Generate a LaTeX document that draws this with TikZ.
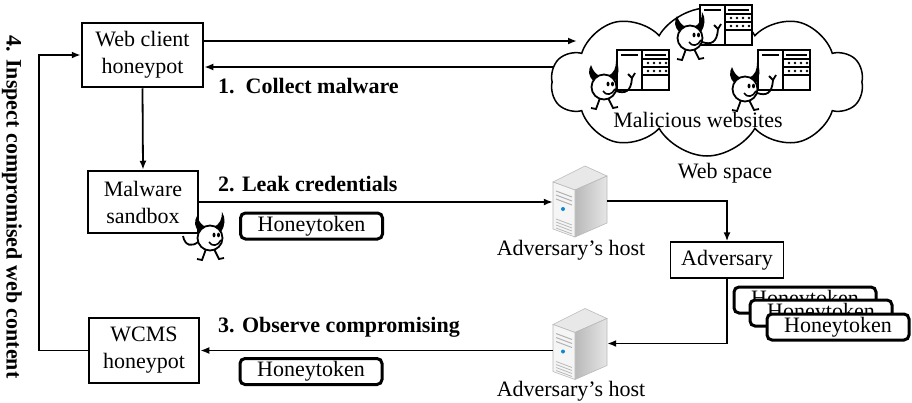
\documentclass[tikz,border=0pt]{standalone}
\usepackage{fontspec}
\setmainfont{Liberation Serif}
\usetikzlibrary{arrows.meta,shapes.symbols}

\newcommand{\figfont}{\fontsize{22}{27}\selectfont}

\tikzset{
  pot/.style={draw,line width=2.5pt,fill=white,align=center,inner sep=0pt},
  token/.style={draw,line width=3pt,rounded corners=5pt,fill=white,inner sep=0pt,
    minimum width=142pt,minimum height=26pt},
  arr/.style={line width=1.8pt,-{Latex[length=9pt,width=7pt]}},
  steplabel/.style={font=\figfont\bfseries,anchor=west,inner sep=0pt},
  host/.style={inner sep=0pt,minimum width=54pt,minimum height=72pt},
  hostlabel/.style={inner sep=0pt},
  % little web page with two columns
  pics/page/.style={code={
    \draw[line width=1.5pt,fill=white] (0,0) rectangle (52,40);
    \draw[line width=1.5pt] (25,0) -- (25,40);
    \draw[line width=2.5pt] (4,5) -- (21,5);
    \draw[line width=2pt] (28,5) -- (49,5);
    \draw[line width=1.2pt] (25,9) -- (52,9);
    \foreach \x in {31,37,43,49} {
      \fill (\x,13) circle (1.3pt);
      \fill (\x,21) circle (1.3pt);
    }
    \draw[line width=1.2pt] (25,17) -- (52,17);
    \draw[line width=1.2pt] (25,25) -- (52,25);
  }},
  % small devil, #1 is its arm
  pics/imp/.style={code={
    \fill (-10,-6) .. controls (-16,-10) and (-16,-17) .. (-13,-22)
      .. controls (-11,-16) and (-8,-12) .. (-3,-11) -- cycle;
    \fill (4,-11) .. controls (10,-14) and (12,-19) .. (12,-26)
      .. controls (16,-20) and (15,-12) .. (11,-6) -- cycle;
    \draw[line width=1.8pt,fill=white] (0,0) circle (12.5pt);
    \fill (4,-3) ellipse (1.5pt and 2.4pt);
    \fill (8.5,-3) ellipse (1.5pt and 2.4pt);
    \draw[line width=1.6pt] (-1,4) .. controls (2,9) and (8,8) .. (11,2);
    \draw[line width=1.8pt] (-4,11) -- (-8,22) -- (-13,21);
    \draw[line width=1.8pt] (4,11) -- (9,21) -- (14,20);
    \draw[line width=1.8pt] #1;
  }},
  % server box
  pics/server/.style={code={
    \fill[gray!18,draw=gray!55,line width=0.6pt] (-27,-19) -- (-5,-11) -- (27,-25) -- (5,-35) -- cycle;
    \shade[left color=gray!55,right color=gray!20,draw=gray!55,line width=0.6pt]
      (-5,-11) -- (27,-25) -- (27,22) -- (-5,36) -- cycle;
    \fill[gray!8,draw=gray!55,line width=0.6pt] (-27,-19) -- (-5,-11) -- (-5,36) -- (-27,28) -- cycle;
    \foreach \y in {-10,-6,-2} \draw[gray!60,line width=1pt] (-24,\y) -- (-8,\y+6);
    \fill[cyan!70!blue] (-17,8) circle (2pt);
    \foreach \y in {18,21,24,27} \draw[gray!55,line width=0.8pt] (-24,\y) -- (-8,\y+6);
  }}
}

\begin{document}
\begin{tikzpicture}[x=1pt,y=-1pt,font=\figfont]
\useasboundingbox (0,0) rectangle (912,402);

% web space
\node[cloud,cloud puffs=10,cloud puff arc=120,aspect=2.1,draw,fill=white,line width=1.5pt,
      minimum width=312pt,minimum height=148pt] (web) at (707,82) {};
\pic at (617,50) {page};
\pic at (700,5) {page};
\pic at (758,50) {page};
\pic at (604,87) {imp={(12,4) .. controls (21,7) and (27,5) .. (28,-9) (24,-13) -- (28,-9) -- (31,-14)}};
\pic at (690,38) {imp={(12,4) .. controls (21,7) and (27,5) .. (28,-9) (24,-13) -- (28,-9) -- (31,-14)}};
\pic at (745,89) {imp={(12,4) .. controls (21,7) and (27,5) .. (28,-9) (24,-13) -- (28,-9) -- (31,-14)}};
\node (malicious) at (698,120) {Malicious websites};
\node (space) at (725,173) {Web space};

% honeypots
\node[pot,minimum width=121pt,minimum height=64pt] (wch) at (142.5,55) {Web client\\honeypot};
\node[pot,minimum width=110pt,minimum height=62pt] (sandbox) at (143,202) {Malware\\sandbox};
\node[pot,minimum width=110pt,minimum height=65pt] (wcms) at (144,350.5) {WCMS\\honeypot};
\pic at (210,238) {imp={(-12,4) .. controls (-18,9) and (-25,8) .. (-27,-2)}};

% adversary side
\node[host] (h1) at (580,201) {};
\pic at (h1) {server};
\node[hostlabel] (h1l) at (571,250) {Adversary’s host};
\node[host] (h2) at (580,343.5) {};
\pic at (h2) {server};
\node[hostlabel] (h2l) at (571,391) {Adversary’s host};
\node[draw,line width=1.3pt,minimum width=113pt,minimum height=36pt,inner sep=0pt] (adv) at (727,260) {Adversary};

% honeytokens
\node[token] (tok1) at (311.5,226) {Honeytoken};
\node[token] (tok3) at (311,371.5) {Honeytoken};
\node[token] (stackA) at (805,300) {Honeytoken};
\node[token] (stackB) at (821,313) {Honeytoken};
\node[token] (stackC) at (838,327) {Honeytoken};

% steps
\node[steplabel] (s1) at (218,86) {1.\ \ Collect malware};
\node[steplabel] (s2) at (218,184) {2. Leak credentials};
\node[steplabel] (s3) at (218,327) {3. Observe compromising};
\node[font=\figfont\bfseries,rotate=-90] (s4) at (12,207) {4. Inspect compromised web content};

% flows
\coordinate (webin) at (577,41);
\coordinate (webout) at (553,67);
\draw[arr] (wch.east |- webin) -- (webin);
\draw[arr] (webout) -- (webout -| wch.east);
\draw[arr] (wch.south) -- (sandbox.north);
\draw[arr] (sandbox.east) -- (sandbox.east -| h1.west);
\draw[arr] (h1.east) -| (adv.north);
\draw[arr] (adv.south) |- (h2.east);
\draw[arr] (h2.west |- wcms.east) -- (wcms.east);
\draw[arr] (wcms.west) -- ++(-49,0) |- (wch.west);
\end{tikzpicture}
\end{document}
